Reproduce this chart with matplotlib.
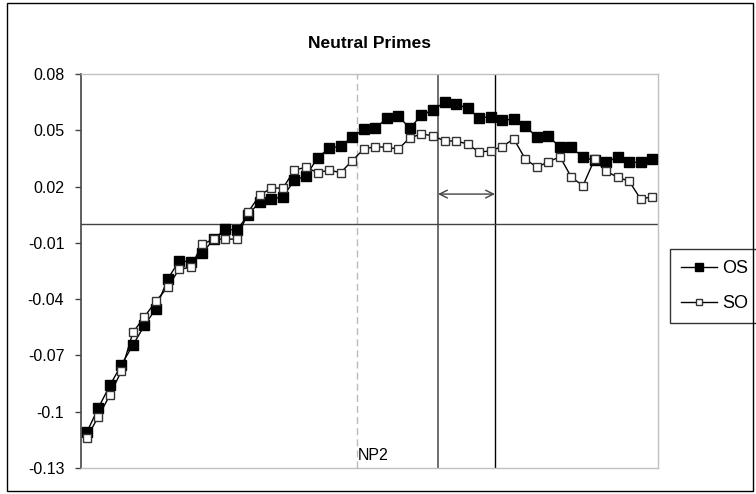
"""Recreate the 'Neutral Primes' OS/SO line chart (Excel style)."""

import matplotlib.pyplot as plt
from matplotlib.patches import Rectangle

OUTPUT_PATH = "out.png"

# Series values, one point per category.
OS_VALUES = [
    -0.111, -0.098, -0.086, -0.075, -0.0645, -0.054, -0.045, -0.0294, -0.0197, -0.020,
    -0.0156, -0.008, -0.0028, -0.0032, 0.005, 0.012, 0.0132, 0.0146, 0.0235, 0.0256,
    0.0354, 0.0404, 0.0416, 0.0463, 0.0505, 0.0511, 0.0564, 0.0576, 0.051, 0.0581,
    0.0608, 0.0649, 0.064, 0.0617, 0.0567, 0.0572, 0.0555, 0.0558, 0.0523, 0.0463,
    0.047, 0.0409, 0.0409, 0.0356, 0.034, 0.0332, 0.0356, 0.0329, 0.0329, 0.0347,
]
SO_VALUES = [
    -0.1138, -0.1027, -0.0911, -0.0783, -0.0577, -0.0494, -0.041, -0.0337, -0.0241, -0.023,
    -0.0108, -0.008, -0.008, -0.008, 0.0066, 0.0155, 0.0192, 0.0192, 0.0288, 0.0303,
    0.0274, 0.0288, 0.0274, 0.0338, 0.040, 0.0413, 0.0409, 0.040, 0.046, 0.048,
    0.0471, 0.0443, 0.0443, 0.0427, 0.0383, 0.0391, 0.0413, 0.0454, 0.0347, 0.0303,
    0.0332, 0.0359, 0.0249, 0.0205, 0.0345, 0.0283, 0.0249, 0.0229, 0.0133, 0.0146,
]
Y_TICKS = [0.08, 0.05, 0.02, -0.01, -0.04, -0.07, -0.10, -0.13]
Y_TICK_LABELS = ["0.08", "0.05", "0.02", "-0.01", "-0.04", "-0.07", "-0.1", "-0.13"]

# Annotation positions (category index / value units).
NP2_X = 23.42
WINDOW_START = 30.44
WINDOW_END = 35.37
ARROW_Y = 0.016

FONT = "Liberation Sans"


def main() -> None:
    plt.rcParams["font.family"] = [FONT, "DejaVu Sans"]

    fig = plt.figure(figsize=(7.56, 4.94), dpi=100)
    ax = fig.add_axes([81 / 756, 1 - 468 / 494, 577 / 756, 394 / 494])

    # outer chart border
    fig.patches.append(
        Rectangle((7 / 756, 3 / 494), 746 / 756, 488 / 494, transform=fig.transFigure,
                  fill=False, edgecolor="black", linewidth=1.0)
    )

    x = list(range(len(OS_VALUES)))
    ax.plot(x, OS_VALUES, color="black", linewidth=1.0, marker="s", markersize=7.5,
            markerfacecolor="black", markeredgecolor="black", label="OS", zorder=3)
    ax.plot(x, SO_VALUES, color="black", linewidth=1.0, marker="s", markersize=6,
            markerfacecolor="white", markeredgecolor="#333333", markeredgewidth=1.0,
            label="SO", zorder=4)

    ax.set_xlim(-0.5, len(OS_VALUES) - 0.5)
    ax.set_ylim(-0.13, 0.08)

    ax.axhline(0, color="#444444", linewidth=1.0, zorder=2)
    ax.axvline(NP2_X, color="#bbbbbb", linewidth=1.0, linestyle=(0, (5, 3)), zorder=1)
    ax.axvline(WINDOW_START, color="#555555", linewidth=1.2, zorder=1)
    ax.axvline(WINDOW_END, color="black", linewidth=1.0, zorder=1)
    ax.annotate("", xy=(WINDOW_START, ARROW_Y), xytext=(WINDOW_END, ARROW_Y),
                arrowprops=dict(arrowstyle="<->", color="#444444", lw=1.0,
                                shrinkA=0, shrinkB=0, mutation_scale=14))
    ax.text(NP2_X + 0.1, -0.1235, "NP2", fontsize=11.5, ha="left", va="center")

    ax.set_title("Neutral Primes", fontsize=12.5, fontweight="bold", pad=19)

    ax.set_yticks(Y_TICKS)
    ax.set_yticklabels(Y_TICK_LABELS, fontsize=11.5)
    ax.set_xticks([])
    ax.tick_params(axis="y", direction="out", length=4, width=1, color="#444444", pad=8)

    for side in ("top", "right", "bottom"):
        ax.spines[side].set_color("#c0c0c0")
        ax.spines[side].set_linewidth(1.0)
    ax.spines["left"].set_color("#444444")
    ax.spines["left"].set_linewidth(1.2)

    leg = ax.legend(loc="upper left", bbox_to_anchor=(670 / 756, 1 - 249 / 494),
                    bbox_transform=fig.transFigure, fontsize=13, frameon=True,
                    fancybox=False, edgecolor="black", handlelength=2.0,
                    handletextpad=0.3, borderpad=0.6, labelspacing=1.0, markerscale=0.8,
                    borderaxespad=0)
    leg.get_frame().set_linewidth(1.0)

    fig.savefig(OUTPUT_PATH, dpi=100)
    plt.close(fig)


if __name__ == "__main__":
    main()
